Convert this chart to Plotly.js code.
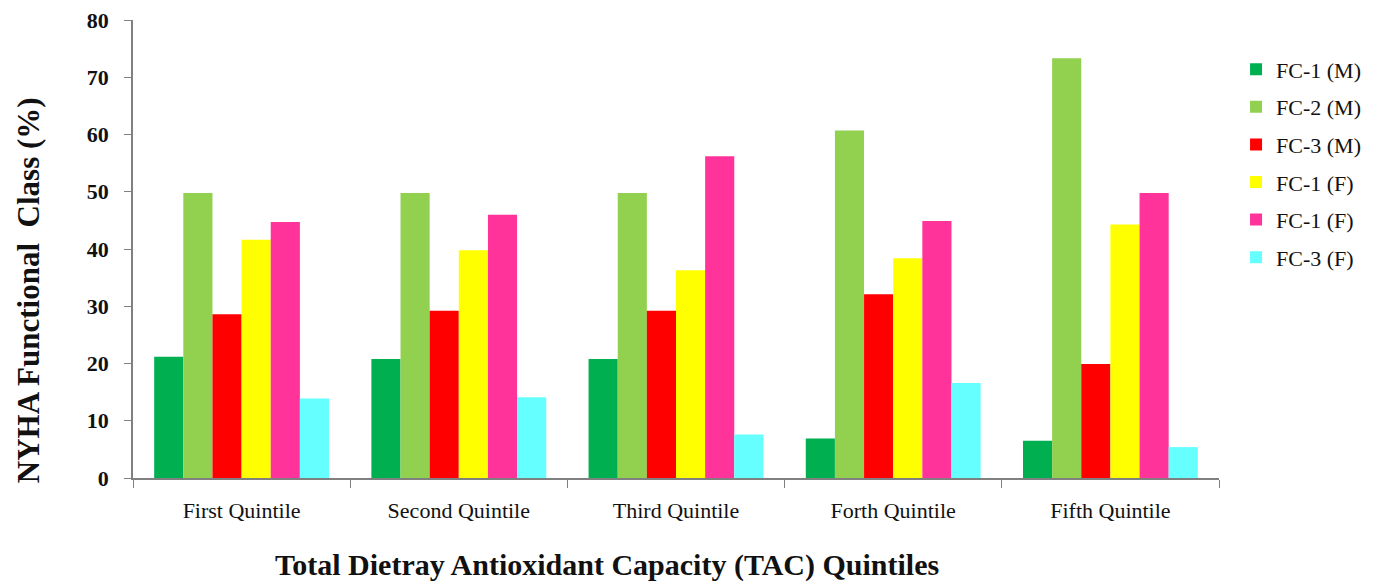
<!DOCTYPE html>
<html>
<head>
<meta charset="utf-8">
<script src="https://cdn.plot.ly/plotly-3.0.1.min.js"></script>
<style>html,body{margin:0;padding:0;background:#fff;}#chart{width:1395px;height:584px;}</style>
</head>
<body>
<div id="chart"></div>
<script>
const categories = ["First Quintile", "Second Quintile", "Third Quintile", "Forth Quintile", "Fifth Quintile"];
const seriesNames = ["FC-1 (M)", "FC-2 (M)", "FC-3 (M)", "FC-1 (F)", "FC-1 (F)", "FC-3 (F)"];
const fc1M = [21.2, 20.8, 20.8, 6.9, 6.5];
const fc2M = [49.8, 49.8, 49.8, 60.7, 73.3];
const fc3M = [28.6, 29.2, 29.2, 32.1, 19.9];
const fc1F_yellow = [41.6, 39.8, 36.3, 38.4, 44.3];
const fc1F_pink = [44.7, 46.0, 56.2, 44.9, 49.8];
const fc3F = [13.9, 14.1, 7.6, 16.6, 5.4];
const seriesValues = [fc1M, fc2M, fc3M, fc1F_yellow, fc1F_pink, fc3F];
const colors = ["#00B050", "#92D050", "#FF0000", "#FFFF00", "#FF3399", "#66FFFF"];
const yTicks = [0, 10, 20, 30, 40, 50, 60, 70, 80];

const serif = "Liberation Serif, Times New Roman, serif";

const traces = seriesValues.map((vals, i) => ({
  type: "bar",
  name: seriesNames[i],
  legendgroup: "g" + i,
  x: categories,
  y: vals,
  marker: {color: colors[i], line: {width: 0}},
  hoverinfo: "x+y+name"
}));

const layout = {
  width: 1395,
  height: 584,
  margin: {l: 133, r: 176, t: 20, b: 106},
  paper_bgcolor: "#ffffff",
  plot_bgcolor: "#ffffff",
  font: {family: serif, color: "#111"},
  barmode: "group",
  bargap: 0.195,
  bargroupgap: 0,
  showlegend: true,
  legend: {
    x: 1.0157, xanchor: "left",
    y: 0.938, yanchor: "top",
    font: {family: serif, size: 22, color: "#111"},
    bgcolor: "rgba(0,0,0,0)",
    traceorder: "grouped",
    tracegroupgap: 6,
    itemwidth: 30
  },
  xaxis: {
    type: "category",
    showline: true,
    linecolor: "#808080",
    linewidth: 1.5,
    ticks: "outside",
    tickson: "boundaries",
    ticklen: 8,
    tickcolor: "#808080",
    showgrid: false,
    zeroline: false,
    ticklabelstandoff: 12,
    tickfont: {family: serif, size: 22, color: "#111"},
    automargin: false
  },
  yaxis: {
    range: [0, 80],
    tickvals: yTicks,
    ticktext: yTicks.map(String),
    showline: true,
    linecolor: "#808080",
    linewidth: 1.5,
    ticks: "outside",
    ticklen: 7,
    tickcolor: "#808080",
    showgrid: false,
    zeroline: false,
    ticklabelstandoff: 11,
    tickfont: {family: serif, size: 22, color: "#111", weight: "bold"},
    automargin: false
  },
  annotations: [
    {
      text: "<b>Total Dietray Antioxidant Capacity (TAC) Quintiles</b>",
      xref: "paper", yref: "paper",
      x: 0.4365, y: -0.19,
      xanchor: "center", yanchor: "middle",
      showarrow: false,
      font: {family: serif, size: 30, color: "#111"}
    },
    {
      text: "<b>NYHA Functional&nbsp; Class (%)</b>",
      xref: "paper", yref: "paper",
      x: -0.0967, y: 0.41,
      xanchor: "center", yanchor: "middle",
      textangle: -90,
      showarrow: false,
      font: {family: serif, size: 31, color: "#111"}
    }
  ]
};

Plotly.newPlot("chart", traces, layout, {displayModeBar: false, responsive: false}).then(() => {
  document.querySelectorAll("#chart .legendtext").forEach(el => {
    el.style.fontFamily = "'Liberation Serif', 'Times New Roman', serif";
  });
});
</script>
</body>
</html>
